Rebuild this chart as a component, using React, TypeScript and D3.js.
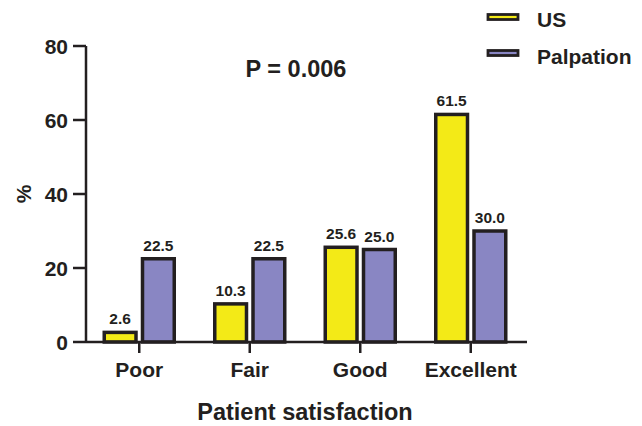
import React from "react";
import * as d3 from "d3";

const categories = ["Poor", "Fair", "Good", "Excellent"];
const seriesNames = ["US", "Palpation"];
const usValues = [2.6, 10.3, 25.6, 61.5];
const palpationValues = [22.5, 22.5, 25.0, 30.0];
const yTicks = [0, 20, 40, 60, 80];
const colors = ["#F3EA17", "#8986C3"];
const pText = "P = 0.006";

const FONT = "'Liberation Sans', Arial, Helvetica, sans-serif";
const INK = "#231F20";

export default function App() {
  const W = 642, H = 426;
  const y = d3.scaleLinear().domain([0, 80]).range([342, 46]);
  const x0 = d3.scaleBand<string>().domain(categories).range([84, 526]).padding(0);
  const x1 = d3.scaleBand<string>().domain(seriesNames).range([-35, 35]).paddingInner(0.17);
  const seriesVals = [usValues, palpationValues];
  const axisX = 86;
  const axisY = y(0);

  return (
    <svg width={W} height={H} style={{ position: "absolute", left: 0, top: 0 }} fontFamily={FONT}>
      <rect width={W} height={H} fill="#fff" />
      {/* bars */}
      {categories.map((c, ci) => {
        const cx = (x0(c) as number) + x0.bandwidth() / 2;
        return seriesNames.map((s, si) => {
          const v = seriesVals[si][ci];
          const bx = cx + (x1(s) as number);
          const by = y(v);
          return (
            <g key={c + s}>
              <rect x={bx} y={by} width={x1.bandwidth()} height={axisY - by}
                fill={colors[si]} stroke={INK} strokeWidth={3.5} />
              <text x={bx + x1.bandwidth() / 2} y={by - 8} textAnchor="middle"
                fontSize={15.5} fontWeight="bold" fill={INK}>{v.toFixed(1)}</text>
            </g>
          );
        });
      })}
      {/* y axis */}
      <line x1={axisX} x2={axisX} y1={y(80)} y2={axisY} stroke={INK} strokeWidth={2.5} />
      {yTicks.map(t => (
        <g key={t}>
          <line x1={axisX - 13} x2={axisX} y1={y(t)} y2={y(t)} stroke={INK} strokeWidth={2.5} />
          <text x={68} y={y(t)} dy="0.36em" textAnchor="end" fontSize={21} fontWeight="bold" fill={INK}>{t}</text>
        </g>
      ))}
      {/* x axis */}
      <line x1={axisX} x2={527} y1={axisY} y2={axisY} stroke={INK} strokeWidth={2.5} />
      {categories.map(c => {
        const cx = (x0(c) as number) + x0.bandwidth() / 2;
        return (
          <g key={c}>
            <line x1={cx} x2={cx} y1={axisY} y2={axisY + 11} stroke={INK} strokeWidth={2.5} />
            <text x={cx} y={377} textAnchor="middle" fontSize={21} fontWeight="bold" fill={INK}>{c}</text>
          </g>
        );
      })}
      {/* axis titles */}
      <text x={305} y={420} textAnchor="middle" fontSize={23.5} fontWeight="bold" fill={INK}>Patient satisfaction</text>
      <text transform={`translate(31,194) rotate(-90)`} textAnchor="middle" fontSize={21} fontWeight="bold" fill={INK}>%</text>
      {/* p value */}
      <text x={296} y={77} textAnchor="middle" fontSize={23.5} fontWeight="bold" fill={INK}>{pText}</text>
      {/* legend */}
      {seriesNames.map((s, i) => (
        <g key={s}>
          <rect x={488} y={14.5 + i * 36} width={30} height={5} fill={colors[i]} stroke={INK} strokeWidth={2.8} />
          <text x={537} y={27 + i * 36.5} fontSize={21} fontWeight="bold" fill={INK}>{s}</text>
        </g>
      ))}
    </svg>
  );
}
